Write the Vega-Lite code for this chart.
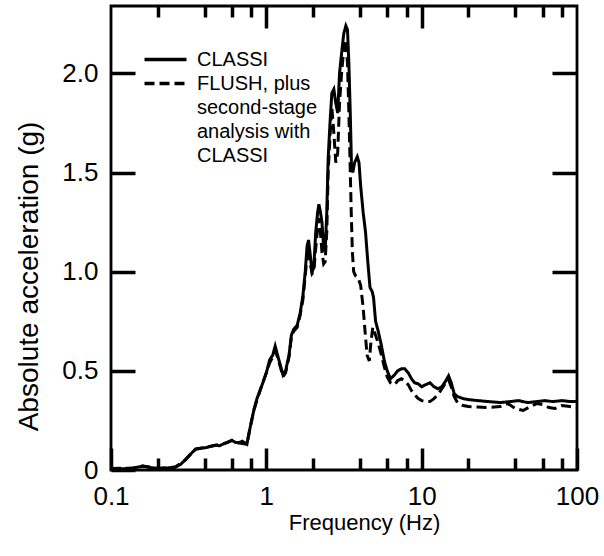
{
  "$schema": "https://vega.github.io/schema/vega-lite/v6.json",
  "width": 466,
  "height": 464,
  "autosize": "none",
  "padding": {"left": 111, "top": 6, "right": 27, "bottom": 86},
  "background": "white",
  "config": {
    "view": {"stroke": "black", "strokeWidth": 2.8},
    "font": "Liberation Sans",
    "axis": {
      "domain": false,
      "grid": false,
      "ticks": true,
      "tickColor": "#000000",
      "tickWidth": 3.5,
      "tickOpacity": 1,
      "zindex": 2,
      "labelColor": "black",
      "titleColor": "black",
      "labelFont": "Liberation Sans",
      "titleFont": "Liberation Sans",
      "titleFontWeight": "normal"
    }
  },
  "datasets": {
    "curves": [
      {"f": 0.1, "a": 0.008, "s": "CLASSI"},
      {"f": 0.12, "a": 0.006, "s": "CLASSI"},
      {"f": 0.14, "a": 0.01, "s": "CLASSI"},
      {"f": 0.16, "a": 0.02, "s": "CLASSI"},
      {"f": 0.18, "a": 0.012, "s": "CLASSI"},
      {"f": 0.2, "a": 0.008, "s": "CLASSI"},
      {"f": 0.23, "a": 0.01, "s": "CLASSI"},
      {"f": 0.26, "a": 0.015, "s": "CLASSI"},
      {"f": 0.28, "a": 0.028, "s": "CLASSI"},
      {"f": 0.3, "a": 0.05, "s": "CLASSI"},
      {"f": 0.325, "a": 0.08, "s": "CLASSI"},
      {"f": 0.35, "a": 0.105, "s": "CLASSI"},
      {"f": 0.38, "a": 0.11, "s": "CLASSI"},
      {"f": 0.41, "a": 0.113, "s": "CLASSI"},
      {"f": 0.44, "a": 0.12, "s": "CLASSI"},
      {"f": 0.47, "a": 0.125, "s": "CLASSI"},
      {"f": 0.5, "a": 0.122, "s": "CLASSI"},
      {"f": 0.53, "a": 0.132, "s": "CLASSI"},
      {"f": 0.57, "a": 0.14, "s": "CLASSI"},
      {"f": 0.6, "a": 0.15, "s": "CLASSI"},
      {"f": 0.63, "a": 0.14, "s": "CLASSI"},
      {"f": 0.66, "a": 0.137, "s": "CLASSI"},
      {"f": 0.7, "a": 0.145, "s": "CLASSI"},
      {"f": 0.75, "a": 0.13, "s": "CLASSI"},
      {"f": 0.78, "a": 0.2, "s": "CLASSI"},
      {"f": 0.83, "a": 0.3, "s": "CLASSI"},
      {"f": 0.87, "a": 0.36, "s": "CLASSI"},
      {"f": 0.91, "a": 0.4, "s": "CLASSI"},
      {"f": 0.95, "a": 0.44, "s": "CLASSI"},
      {"f": 1.0, "a": 0.49, "s": "CLASSI"},
      {"f": 1.05, "a": 0.555, "s": "CLASSI"},
      {"f": 1.1, "a": 0.58, "s": "CLASSI"},
      {"f": 1.14, "a": 0.625, "s": "CLASSI"},
      {"f": 1.18, "a": 0.58, "s": "CLASSI"},
      {"f": 1.23, "a": 0.53, "s": "CLASSI"},
      {"f": 1.28, "a": 0.48, "s": "CLASSI"},
      {"f": 1.33, "a": 0.5, "s": "CLASSI"},
      {"f": 1.4, "a": 0.58, "s": "CLASSI"},
      {"f": 1.45, "a": 0.68, "s": "CLASSI"},
      {"f": 1.5, "a": 0.71, "s": "CLASSI"},
      {"f": 1.58, "a": 0.73, "s": "CLASSI"},
      {"f": 1.65, "a": 0.79, "s": "CLASSI"},
      {"f": 1.72, "a": 0.88, "s": "CLASSI"},
      {"f": 1.78, "a": 1.0, "s": "CLASSI"},
      {"f": 1.83, "a": 1.13, "s": "CLASSI"},
      {"f": 1.87, "a": 1.16, "s": "CLASSI"},
      {"f": 1.92, "a": 1.08, "s": "CLASSI"},
      {"f": 1.97, "a": 1.0, "s": "CLASSI"},
      {"f": 2.02, "a": 1.02, "s": "CLASSI"},
      {"f": 2.08, "a": 1.2, "s": "CLASSI"},
      {"f": 2.14, "a": 1.3, "s": "CLASSI"},
      {"f": 2.18, "a": 1.34, "s": "CLASSI"},
      {"f": 2.23, "a": 1.3, "s": "CLASSI"},
      {"f": 2.28, "a": 1.25, "s": "CLASSI"},
      {"f": 2.34, "a": 1.12, "s": "CLASSI"},
      {"f": 2.39, "a": 1.1, "s": "CLASSI"},
      {"f": 2.45, "a": 1.3, "s": "CLASSI"},
      {"f": 2.5, "a": 1.57, "s": "CLASSI"},
      {"f": 2.57, "a": 1.75, "s": "CLASSI"},
      {"f": 2.64, "a": 1.9, "s": "CLASSI"},
      {"f": 2.72, "a": 1.92, "s": "CLASSI"},
      {"f": 2.8, "a": 1.85, "s": "CLASSI"},
      {"f": 2.88, "a": 1.8, "s": "CLASSI"},
      {"f": 2.96, "a": 2.0, "s": "CLASSI"},
      {"f": 3.05, "a": 2.1, "s": "CLASSI"},
      {"f": 3.15, "a": 2.2, "s": "CLASSI"},
      {"f": 3.25, "a": 2.24, "s": "CLASSI"},
      {"f": 3.33, "a": 2.22, "s": "CLASSI"},
      {"f": 3.4, "a": 2.05, "s": "CLASSI"},
      {"f": 3.47, "a": 1.8, "s": "CLASSI"},
      {"f": 3.53, "a": 1.55, "s": "CLASSI"},
      {"f": 3.6, "a": 1.5, "s": "CLASSI"},
      {"f": 3.7, "a": 1.55, "s": "CLASSI"},
      {"f": 3.85, "a": 1.58, "s": "CLASSI"},
      {"f": 3.95, "a": 1.55, "s": "CLASSI"},
      {"f": 4.05, "a": 1.43, "s": "CLASSI"},
      {"f": 4.2, "a": 1.3, "s": "CLASSI"},
      {"f": 4.35, "a": 1.2, "s": "CLASSI"},
      {"f": 4.5, "a": 1.05, "s": "CLASSI"},
      {"f": 4.65, "a": 0.92, "s": "CLASSI"},
      {"f": 4.8, "a": 0.9, "s": "CLASSI"},
      {"f": 4.9, "a": 0.87, "s": "CLASSI"},
      {"f": 5.05, "a": 0.75, "s": "CLASSI"},
      {"f": 5.25, "a": 0.7, "s": "CLASSI"},
      {"f": 5.5, "a": 0.63, "s": "CLASSI"},
      {"f": 5.75, "a": 0.55, "s": "CLASSI"},
      {"f": 6.0, "a": 0.5, "s": "CLASSI"},
      {"f": 6.3, "a": 0.46, "s": "CLASSI"},
      {"f": 6.7, "a": 0.48, "s": "CLASSI"},
      {"f": 7.0, "a": 0.5, "s": "CLASSI"},
      {"f": 7.4, "a": 0.51, "s": "CLASSI"},
      {"f": 7.8, "a": 0.51, "s": "CLASSI"},
      {"f": 8.2, "a": 0.49, "s": "CLASSI"},
      {"f": 8.6, "a": 0.46, "s": "CLASSI"},
      {"f": 9.0, "a": 0.44, "s": "CLASSI"},
      {"f": 9.5, "a": 0.435, "s": "CLASSI"},
      {"f": 10.0, "a": 0.42, "s": "CLASSI"},
      {"f": 10.6, "a": 0.43, "s": "CLASSI"},
      {"f": 11.3, "a": 0.44, "s": "CLASSI"},
      {"f": 12.0, "a": 0.42, "s": "CLASSI"},
      {"f": 12.7, "a": 0.41, "s": "CLASSI"},
      {"f": 13.5, "a": 0.42, "s": "CLASSI"},
      {"f": 14.3, "a": 0.45, "s": "CLASSI"},
      {"f": 14.9, "a": 0.475, "s": "CLASSI"},
      {"f": 15.5, "a": 0.44, "s": "CLASSI"},
      {"f": 16.2, "a": 0.385, "s": "CLASSI"},
      {"f": 17.0, "a": 0.37, "s": "CLASSI"},
      {"f": 18.5, "a": 0.36, "s": "CLASSI"},
      {"f": 20, "a": 0.355, "s": "CLASSI"},
      {"f": 23, "a": 0.35, "s": "CLASSI"},
      {"f": 27, "a": 0.345, "s": "CLASSI"},
      {"f": 32, "a": 0.34, "s": "CLASSI"},
      {"f": 37, "a": 0.345, "s": "CLASSI"},
      {"f": 42, "a": 0.35, "s": "CLASSI"},
      {"f": 48, "a": 0.34, "s": "CLASSI"},
      {"f": 55, "a": 0.345, "s": "CLASSI"},
      {"f": 62, "a": 0.35, "s": "CLASSI"},
      {"f": 70, "a": 0.345, "s": "CLASSI"},
      {"f": 80, "a": 0.35, "s": "CLASSI"},
      {"f": 90, "a": 0.345, "s": "CLASSI"},
      {"f": 100, "a": 0.345, "s": "CLASSI"},

      {"f": 0.1, "a": 0.008, "s": "FLUSH"},
      {"f": 0.14, "a": 0.01, "s": "FLUSH"},
      {"f": 0.16, "a": 0.02, "s": "FLUSH"},
      {"f": 0.2, "a": 0.008, "s": "FLUSH"},
      {"f": 0.26, "a": 0.015, "s": "FLUSH"},
      {"f": 0.3, "a": 0.05, "s": "FLUSH"},
      {"f": 0.35, "a": 0.105, "s": "FLUSH"},
      {"f": 0.44, "a": 0.12, "s": "FLUSH"},
      {"f": 0.53, "a": 0.132, "s": "FLUSH"},
      {"f": 0.6, "a": 0.15, "s": "FLUSH"},
      {"f": 0.66, "a": 0.137, "s": "FLUSH"},
      {"f": 0.75, "a": 0.13, "s": "FLUSH"},
      {"f": 0.78, "a": 0.2, "s": "FLUSH"},
      {"f": 0.83, "a": 0.3, "s": "FLUSH"},
      {"f": 0.91, "a": 0.4, "s": "FLUSH"},
      {"f": 1.0, "a": 0.49, "s": "FLUSH"},
      {"f": 1.05, "a": 0.54, "s": "FLUSH"},
      {"f": 1.1, "a": 0.57, "s": "FLUSH"},
      {"f": 1.14, "a": 0.6, "s": "FLUSH"},
      {"f": 1.18, "a": 0.57, "s": "FLUSH"},
      {"f": 1.23, "a": 0.52, "s": "FLUSH"},
      {"f": 1.28, "a": 0.47, "s": "FLUSH"},
      {"f": 1.33, "a": 0.49, "s": "FLUSH"},
      {"f": 1.4, "a": 0.57, "s": "FLUSH"},
      {"f": 1.45, "a": 0.67, "s": "FLUSH"},
      {"f": 1.5, "a": 0.7, "s": "FLUSH"},
      {"f": 1.58, "a": 0.72, "s": "FLUSH"},
      {"f": 1.65, "a": 0.78, "s": "FLUSH"},
      {"f": 1.72, "a": 0.86, "s": "FLUSH"},
      {"f": 1.78, "a": 0.98, "s": "FLUSH"},
      {"f": 1.83, "a": 1.08, "s": "FLUSH"},
      {"f": 1.87, "a": 1.12, "s": "FLUSH"},
      {"f": 1.92, "a": 1.04, "s": "FLUSH"},
      {"f": 1.97, "a": 0.99, "s": "FLUSH"},
      {"f": 2.02, "a": 1.0, "s": "FLUSH"},
      {"f": 2.08, "a": 1.12, "s": "FLUSH"},
      {"f": 2.14, "a": 1.22, "s": "FLUSH"},
      {"f": 2.18, "a": 1.27, "s": "FLUSH"},
      {"f": 2.23, "a": 1.2, "s": "FLUSH"},
      {"f": 2.28, "a": 1.1, "s": "FLUSH"},
      {"f": 2.34, "a": 1.04, "s": "FLUSH"},
      {"f": 2.39, "a": 1.05, "s": "FLUSH"},
      {"f": 2.45, "a": 1.2, "s": "FLUSH"},
      {"f": 2.5, "a": 1.5, "s": "FLUSH"},
      {"f": 2.57, "a": 1.68, "s": "FLUSH"},
      {"f": 2.64, "a": 1.83, "s": "FLUSH"},
      {"f": 2.72, "a": 1.7, "s": "FLUSH"},
      {"f": 2.8, "a": 1.55, "s": "FLUSH"},
      {"f": 2.88, "a": 1.6, "s": "FLUSH"},
      {"f": 2.96, "a": 1.85, "s": "FLUSH"},
      {"f": 3.05, "a": 2.0, "s": "FLUSH"},
      {"f": 3.15, "a": 2.12, "s": "FLUSH"},
      {"f": 3.25, "a": 2.17, "s": "FLUSH"},
      {"f": 3.33, "a": 2.05, "s": "FLUSH"},
      {"f": 3.4, "a": 1.8, "s": "FLUSH"},
      {"f": 3.46, "a": 1.55, "s": "FLUSH"},
      {"f": 3.52, "a": 1.3, "s": "FLUSH"},
      {"f": 3.58, "a": 1.1, "s": "FLUSH"},
      {"f": 3.65, "a": 1.0, "s": "FLUSH"},
      {"f": 3.75, "a": 0.98, "s": "FLUSH"},
      {"f": 3.9, "a": 0.97, "s": "FLUSH"},
      {"f": 4.05, "a": 0.93, "s": "FLUSH"},
      {"f": 4.2, "a": 0.82, "s": "FLUSH"},
      {"f": 4.32, "a": 0.7, "s": "FLUSH"},
      {"f": 4.45, "a": 0.58, "s": "FLUSH"},
      {"f": 4.6, "a": 0.55, "s": "FLUSH"},
      {"f": 4.72, "a": 0.65, "s": "FLUSH"},
      {"f": 4.85, "a": 0.72, "s": "FLUSH"},
      {"f": 5.0, "a": 0.69, "s": "FLUSH"},
      {"f": 5.25, "a": 0.64, "s": "FLUSH"},
      {"f": 5.5, "a": 0.58, "s": "FLUSH"},
      {"f": 5.75, "a": 0.52, "s": "FLUSH"},
      {"f": 6.0, "a": 0.47, "s": "FLUSH"},
      {"f": 6.3, "a": 0.44, "s": "FLUSH"},
      {"f": 6.7, "a": 0.43, "s": "FLUSH"},
      {"f": 7.0, "a": 0.45, "s": "FLUSH"},
      {"f": 7.4, "a": 0.46, "s": "FLUSH"},
      {"f": 7.8, "a": 0.45, "s": "FLUSH"},
      {"f": 8.2, "a": 0.43, "s": "FLUSH"},
      {"f": 8.6, "a": 0.4, "s": "FLUSH"},
      {"f": 9.0, "a": 0.38, "s": "FLUSH"},
      {"f": 9.5, "a": 0.36, "s": "FLUSH"},
      {"f": 10.0, "a": 0.35, "s": "FLUSH"},
      {"f": 10.6, "a": 0.345, "s": "FLUSH"},
      {"f": 11.3, "a": 0.345, "s": "FLUSH"},
      {"f": 12.0, "a": 0.36, "s": "FLUSH"},
      {"f": 12.7, "a": 0.38, "s": "FLUSH"},
      {"f": 13.5, "a": 0.41, "s": "FLUSH"},
      {"f": 14.3, "a": 0.44, "s": "FLUSH"},
      {"f": 14.9, "a": 0.455, "s": "FLUSH"},
      {"f": 15.5, "a": 0.42, "s": "FLUSH"},
      {"f": 16.2, "a": 0.37, "s": "FLUSH"},
      {"f": 17.0, "a": 0.34, "s": "FLUSH"},
      {"f": 18.5, "a": 0.325, "s": "FLUSH"},
      {"f": 20, "a": 0.32, "s": "FLUSH"},
      {"f": 23, "a": 0.318, "s": "FLUSH"},
      {"f": 27, "a": 0.315, "s": "FLUSH"},
      {"f": 32, "a": 0.32, "s": "FLUSH"},
      {"f": 36, "a": 0.335, "s": "FLUSH"},
      {"f": 40, "a": 0.31, "s": "FLUSH"},
      {"f": 45, "a": 0.3, "s": "FLUSH"},
      {"f": 50, "a": 0.32, "s": "FLUSH"},
      {"f": 55, "a": 0.335, "s": "FLUSH"},
      {"f": 60, "a": 0.33, "s": "FLUSH"},
      {"f": 66, "a": 0.315, "s": "FLUSH"},
      {"f": 72, "a": 0.31, "s": "FLUSH"},
      {"f": 80, "a": 0.325, "s": "FLUSH"},
      {"f": 90, "a": 0.32, "s": "FLUSH"},
      {"f": 100, "a": 0.315, "s": "FLUSH"}
    ]
  },
  "data": {"name": "curves"},
  "encoding": {
    "x": {"field": "f", "type": "quantitative", "scale": {"type": "log", "domain": [0.1, 100], "nice": false}},
    "y": {"field": "a", "type": "quantitative", "scale": {"domain": [0, 2.34], "nice": false}}
  },
  "layer": [
    {
      "transform": [{"filter": "datum.s == 'CLASSI'"}],
      "mark": {"type": "line", "strokeOpacity": 0, "clip": true},
      "encoding": {
        "x": {"field": "f", "type": "quantitative",
          "axis": {"orient": "bottom", "values": [0.2, 0.4, 0.6, 0.8, 2, 4, 6, 8, 20, 40, 60, 80], "ticks": true, "tickSize": 12, "offset": -12, "labels": false, "title": null}},
        "y": {"field": "a", "type": "quantitative", "axis": null}
      }
    },
    {
      "transform": [{"filter": "datum.s == 'CLASSI'"}],
      "mark": {"type": "line", "strokeOpacity": 0, "clip": true},
      "encoding": {
        "x": {"field": "f", "type": "quantitative",
          "axis": {"orient": "top", "values": [0.2, 0.4, 0.6, 0.8, 2, 4, 6, 8, 20, 40, 60, 80], "ticks": true, "tickSize": 11, "offset": -11, "labels": false, "title": null}},
        "y": {"field": "a", "type": "quantitative", "axis": null}
      }
    },
    {
      "transform": [{"filter": "datum.s == 'FLUSH'"}],
      "mark": {"type": "line", "color": "black", "strokeWidth": 3, "clip": true},
      "encoding": {
        "x": {"field": "f", "type": "quantitative",
          "axis": {"orient": "top", "values": [1, 10], "ticks": true, "tickSize": 22, "offset": -22, "labels": false, "title": null}},
        "y": {"field": "a", "type": "quantitative",
          "axis": {"orient": "right", "values": [0.5, 1, 1.5, 2], "ticks": true, "tickSize": 25, "offset": -25, "labels": false, "title": null}},
        "strokeDash": {
          "field": "s", "type": "nominal",
          "scale": {"domain": ["CLASSI", "FLUSH"], "range": [[1, 0], [10, 5]]},
          "legend": {
            "orient": "none",
            "legendX": 42,
            "legendY": 41,
            "title": null,
            "padding": 0,
            "symbolType": "M-2,0H2",
            "symbolSize": 441,
            "symbolStrokeWidth": 3.5,
            "symbolStrokeColor": "black",
            "symbolFillColor": "transparent",
            "labelFont": "Liberation Sans",
            "labelFontSize": 20,
            "labelColor": "black",
            "labelOffset": 19,
            "labelLimit": 400,
            "rowPadding": 1,
            "labelExpr": "datum.label == 'FLUSH' ? ['FLUSH, plus', 'second-stage', 'analysis with', 'CLASSI'] : datum.label",
            "encode": {"labels": {"update": {"lineHeight": {"value": 24}}}}
          }
        }
      }
    },
    {
      "transform": [{"filter": "datum.s == 'CLASSI'"}],
      "mark": {"type": "line", "color": "black", "strokeWidth": 3, "clip": true},
      "encoding": {
        "x": {
          "field": "f", "type": "quantitative",
          "axis": {
            "orient": "bottom",
            "values": [0.1, 1, 10, 100],
            "ticks": true,
            "tickSize": 22,
            "offset": -22,
            "labelExpr": "datum.value == 0.1 ? '0.1' : datum.value == 1 ? '1' : datum.value == 10 ? '10' : '100'",
            "labelPadding": 13,
            "labelFlush": false,
            "labelOverlap": false,
            "labelFontSize": 26,
            "labelBaseline": "top",
            "title": "Frequency (Hz)",
            "titleFontSize": 22,
            "titleX": 253,
            "titleY": 81,
            "titleBaseline": "alphabetic"
          }
        },
        "y": {
          "field": "a", "type": "quantitative",
          "axis": {
            "orient": "left",
            "values": [0, 0.5, 1, 1.5, 2],
            "ticks": true,
            "tickSize": 24,
            "offset": -24,
            "labelPadding": 13,
            "labelFontSize": 26,
            "labelOverlap": false,
            "labelBaseline": "middle",
            "labelExpr": "datum.value == 0 ? '0' : format(datum.value, '.1f')",
            "title": "Absolute acceleration (g)",
            "titleFontSize": 28,
            "titleAngle": 270,
            "titleX": -98,
            "titleY": 270,
            "titleBaseline": "alphabetic",
            "titleAlign": "center"
          }
        },
        "strokeDash": {
          "field": "s", "type": "nominal",
          "scale": {"domain": ["CLASSI", "FLUSH"], "range": [[1, 0], [10, 5]]}
        }
      }
    }
  ],
  "resolve": {"axis": {"x": "independent", "y": "independent"}}
}
